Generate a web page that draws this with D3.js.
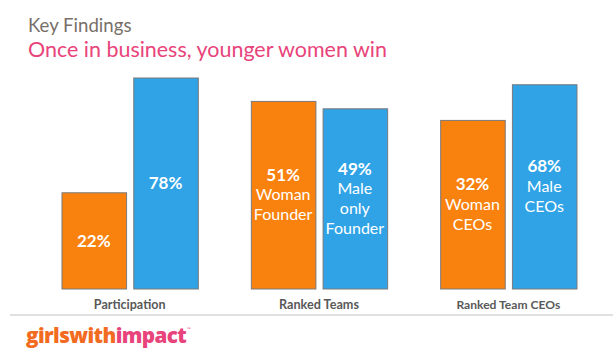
<!DOCTYPE html>
<html>
<head>
<meta charset="utf-8">
<script src="https://cdn.jsdelivr.net/npm/d3@7"></script>
<style>
  html, body { margin: 0; padding: 0; background: #fff; }
  svg { display: block; }
</style>
</head>
<body>
<svg id="chart" width="616" height="364"></svg>
<script>
// ---- data ----
const categories = ["Participation", "Ranked Teams", "Ranked Team CEOs"];
const seriesNames = ["Women", "Men"];
const womenPct = [22, 51, 32];
const menPct = [78, 49, 68];
// bar heights as drawn in the picture (relative to tallest bar = 100)
const womenBarLevel = [45.6, 88.9, 79.9];
const menBarLevel = [100, 85.4, 96.8];
const womenCaption = [[], ["Woman", "Founder"], ["Woman", "CEOs"]];
const menCaption = [[], ["Male", "only", "Founder"], ["Male", "CEOs"]];
const titleText = "Key Findings";
const subtitleText = "Once in business, younger women win";
const logoParts = ["girlswith", "impact"];

const colors = { Women: "#F9820F", Men: "#2FA3E6" };

const svg = d3.select("#chart");
const FONT = "Lato, 'Open Sans', sans-serif";

function fitWidth(sel, target) {
  const len = sel.node().getComputedTextLength();
  const fs = parseFloat(sel.attr("font-size"));
  sel.attr("font-size", (fs * target / len).toFixed(2));
}

// titles
const t1 = svg.append("text").attr("x", 28).attr("y", 31.5)
  .attr("font-family", FONT).attr("font-size", 20).attr("fill", "#786F69").text(titleText);
fitWidth(t1, 103.5);
const t2 = svg.append("text").attr("x", 28).attr("y", 57.3)
  .attr("font-family", FONT).attr("font-size", 22).attr("fill", "#E8437A").text(subtitleText);
fitWidth(t2, 359);

// scales
const x0 = d3.scaleBand().domain(categories).range([35, 603]).paddingInner(0.28).paddingOuter(0.14);
const x1 = d3.scaleBand().domain(seriesNames).range([0, x0.bandwidth()]).paddingInner(0.1);
const y = d3.scaleLinear().domain([0, 100]).range([288.5, 77.5]);

const rows = [];
categories.forEach((c, i) => {
  rows.push({ cat: c, s: "Women", level: womenBarLevel[i], pct: womenPct[i], cap: womenCaption[i] });
  rows.push({ cat: c, s: "Men", level: menBarLevel[i], pct: menPct[i], cap: menCaption[i] });
});

const g = svg.append("g");
g.selectAll("rect").data(rows).join("rect")
  .attr("x", d => x0(d.cat) + x1(d.s) + 0.5)
  .attr("y", d => y(d.level) + 0.5)
  .attr("width", x1.bandwidth())
  .attr("height", d => y(0) - y(d.level))
  .attr("fill", d => colors[d.s])
  .attr("stroke", "#7A7A7A")
  .attr("stroke-width", 1);

// in-bar labels
const lineH = 20;
rows.forEach(d => {
  const cx = x0(d.cat) + x1(d.s) + x1.bandwidth() / 2;
  const cy = (y(d.level) + y(0)) / 2;
  const lines = [d.pct + "%"].concat(d.cap);
  const n = lines.length;
  lines.forEach((ln, k) => {
    g.append("text")
      .attr("x", cx)
      .attr("y", cy + (k - (n - 1) / 2) * lineH)
      .attr("dy", "0.36em")
      .attr("text-anchor", "middle")
      .attr("font-family", FONT)
      .attr("font-size", k === 0 ? 17 : 16)
      .attr("font-weight", k === 0 ? 700 : 400)
      .attr("fill", "#fff")
      .text(ln);
  });
});

// category labels
const catW = [71.7, 80, 104];
categories.forEach((c, i) => {
  const t = svg.append("text")
    .attr("x", x0(c) + x0.bandwidth() / 2)
    .attr("y", 308.5)
    .attr("text-anchor", "middle")
    .attr("font-family", FONT)
    .attr("font-size", 12)
    .attr("font-weight", 700)
    .attr("fill", "#595959")
    .text(c);
  fitWidth(t, catW[i]);
});

// bottom rule
svg.append("line").attr("x1", 10).attr("x2", 613).attr("y1", 315).attr("y2", 315)
  .attr("stroke", "#D6D6D6").attr("stroke-width", 1.5);

// logo
const logo = svg.append("text").attr("x", 26).attr("y", 342.5)
  .attr("font-family", "'Open Sans', Lato, sans-serif").attr("font-size", 20)
  .attr("font-weight", 800).attr("letter-spacing", -0.6);
logo.append("tspan").attr("fill", "#F26B21").text(logoParts[0]);
logo.append("tspan").attr("fill", "#E8437A").text(logoParts[1]);
fitWidth(logo, 160);
svg.append("text").attr("x", 187).attr("y", 331).attr("font-family", FONT)
  .attr("font-size", 5).attr("fill", "#E8437A").text("™");
</script>
</body>
</html>
